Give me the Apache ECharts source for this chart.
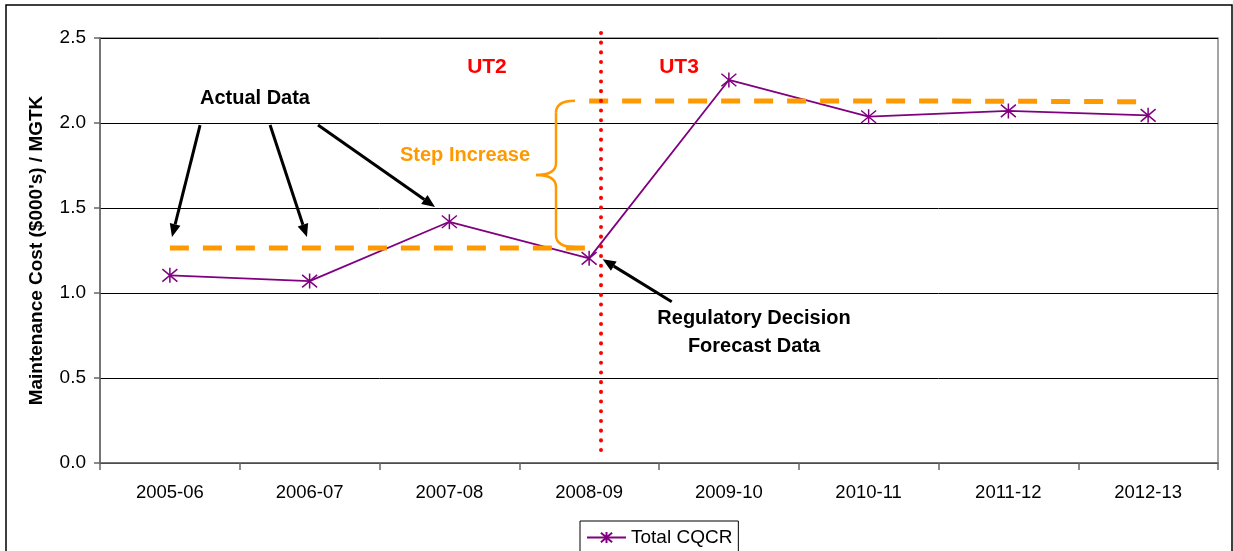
<!DOCTYPE html>
<html>
<head>
<meta charset="utf-8">
<script src="https://cdn.jsdelivr.net/npm/echarts@6/dist/echarts.min.js"></script>
<style>
  html, body { margin: 0; padding: 0; background: #fff; }
  #main { width: 1233px; height: 551px; }
</style>
</head>
<body>
<div id="main"></div>
<script>
  var categories = ['2005-06', '2006-07', '2007-08', '2008-09', '2009-10', '2010-11', '2011-12', '2012-13']
  var totalCqcr = [1.104, 1.07, 1.419, 1.204, 2.253, 2.037, 2.071, 2.045]
  var ut2Level = [1.265, 1.265, 1.265, 1.265, '-', '-', '-', '-']
  var ut3Level = ['-', '-', '-', 2.13, 2.13, 2.13, 2.128, 2.125]
  var yTicks = [0, 0.5, 1.0, 1.5, 2.0, 2.5]

  // regulatory decision marker, x in category units
  var decisionX = 3.085
  var decisionLine = [[decisionX, 2.53], [decisionX, 0.05]]

  // annotations, [x in category units, y value]
  var arrows = [
    [[0.216, 1.988], [0.015, 1.329]],
    [[0.717, 1.988], [0.981, 1.329]],
    [[1.06, 1.988], [1.897, 1.506]],
    [[3.591, 0.949], [3.097, 1.198]]
  ]
  var notes = [
    {text: 'Actual Data', at: [0.609, 2.147], color: '#000', size: 20},
    {text: 'Step Increase', at: [2.112, 1.806], color: '#FF9900', size: 20},
    {text: 'UT2', at: [2.269, 2.329], color: '#FF0000', size: 21},
    {text: 'UT3', at: [3.643, 2.329], color: '#FF0000', size: 21},
    {text: 'Regulatory Decision\nForecast Data', at: [4.18, 0.765], color: '#000', size: 20}
  ]
  var brace = {xEnd: 2.899, xBar: 2.763, xTip: 2.62, yTop: 2.131, yTip: 1.694, yBot: 1.27}

  var font = 'Liberation Sans, Arial, sans-serif'
  var chart = echarts.init(document.getElementById('main'))

  var option = {
    animation: false,
    backgroundColor: '#fff',
    textStyle: {fontFamily: font},
    grid: {
      left: 100, right: 15, top: 38, bottom: 88,
      show: true, borderColor: '#888', borderWidth: 1.5
    },
    legend: {
      data: ['Total CQCR'],
      left: 580, top: 521,
      orient: 'horizontal',
      padding: [7, 6, 10, 6],
      borderColor: '#000', borderWidth: 1,
      itemWidth: 39, itemHeight: 14,
      textStyle: {fontSize: 19, color: '#000', fontFamily: font}
    },
    xAxis: [
      {
        type: 'category',
        data: categories,
        boundaryGap: true,
        axisLine: {lineStyle: {color: '#666', width: 1.5}},
        axisTick: {show: true, length: 7, lineStyle: {color: '#666', width: 1.5}},
        axisLabel: {interval: 0, margin: 20, fontSize: 18.5, color: '#000', fontFamily: font},
        splitLine: {show: false}
      },
      {
        type: 'value',
        min: -0.5, max: 7.5,
        show: false
      }
    ],
    yAxis: {
      type: 'value',
      min: 0, max: 2.5, interval: 0.5,
      name: "Maintenance Cost ($000's) / MGTK",
      nameLocation: 'middle',
      nameGap: 54,
      nameRotate: 90,
      nameTextStyle: {fontSize: 19, fontWeight: 'bold', color: '#000', fontFamily: font},
      axisLine: {show: true, onZero: false, lineStyle: {color: '#666', width: 1.5}},
      axisTick: {show: true, length: 6, lineStyle: {color: '#666', width: 1.5}},
      axisLabel: {
        margin: 14, fontSize: 19, color: '#000', fontFamily: font,
        formatter: function (v) {
          return yTicks.indexOf(v) >= 0 ? v.toFixed(1) : ''
        }
      },
      splitLine: {show: true, lineStyle: {color: '#000', width: 1}}
    },
    series: [
      {
        name: 'Total CQCR',
        type: 'line',
        data: totalCqcr,
        symbol: 'path://M1,1L11,11M11,1L1,11M6,0L6,12',
        symbolSize: 15,
        itemStyle: {color: '#800080', borderColor: '#800080', borderWidth: 1.5},
        lineStyle: {color: '#800080', width: 1.8},
        z: 3
      },
      {
        name: 'UT2 level',
        type: 'line',
        data: ut2Level,
        symbol: 'none',
        lineStyle: {color: '#FF9900', width: 5, type: [19, 14]},
        z: 4
      },
      {
        name: 'UT3 level',
        type: 'line',
        data: ut3Level,
        symbol: 'none',
        lineStyle: {color: '#FF9900', width: 5, type: [19, 14]},
        z: 4
      },
      {
        name: 'Decision',
        type: 'line',
        xAxisIndex: 1,
        data: decisionLine,
        symbol: 'none',
        clip: false,
        lineStyle: {color: '#FF0000', width: 4, type: [0.1, 9.6], cap: 'round'},
        z: 5
      }
    ]
  }
  chart.setOption(option)

  function px(p) {
    return chart.convertToPixel({seriesIndex: 3}, p)
  }

  function arrow(a, b) {
    var p1 = px(a), p2 = px(b)
    var dx = p2[0] - p1[0], dy = p2[1] - p1[1]
    var len = Math.sqrt(dx * dx + dy * dy)
    var ux = dx / len, uy = dy / len
    var hl = 13, hw = 5.5
    var bx = p2[0] - ux * hl, by = p2[1] - uy * hl
    return [
      {
        type: 'line', z: 10, silent: true,
        shape: {x1: p1[0], y1: p1[1], x2: bx, y2: by},
        style: {stroke: '#000', lineWidth: 3}
      },
      {
        type: 'polygon', z: 10, silent: true,
        shape: {points: [p2, [bx - uy * hw, by + ux * hw], [bx + uy * hw, by - ux * hw]]},
        style: {fill: '#000'}
      }
    ]
  }

  var graphics = [
    {
      type: 'rect', z: 0, silent: true,
      shape: {x: 6, y: 5, width: 1226, height: 600},
      style: {fill: 'none', stroke: '#000', lineWidth: 1.5}
    }
  ]
  arrows.forEach(function (a) {
    graphics = graphics.concat(arrow(a[0], a[1]))
  })
  notes.forEach(function (n) {
    var p = px(n.at)
    graphics.push({
      type: 'text', z: 10, silent: true,
      x: p[0], y: p[1],
      style: {
        text: n.text, fill: n.color,
        font: 'bold ' + n.size + 'px ' + font,
        align: 'center', verticalAlign: 'middle',
        lineHeight: 28
      }
    })
  })

  // curly brace marking the step
  var e1 = px([brace.xEnd, brace.yTop]), e2 = px([brace.xEnd, brace.yBot])
  var bar = px([brace.xBar, brace.yTip])[0]
  var tip = px([brace.xTip, brace.yTip])
  var r = 12
  var braceStyle = {fill: 'none', stroke: '#FF9900', lineWidth: 2.5}
  function curve(x1, y1, cx, cy, x2, y2) {
    return {
      type: 'bezierCurve', z: 10, silent: true,
      shape: {x1: x1, y1: y1, cpx1: cx, cpy1: cy, x2: x2, y2: y2},
      style: braceStyle
    }
  }
  function seg(x1, y1, x2, y2) {
    return {
      type: 'line', z: 10, silent: true,
      shape: {x1: x1, y1: y1, x2: x2, y2: y2},
      style: braceStyle
    }
  }
  graphics.push(
    curve(e1[0], e1[1], bar, e1[1], bar, e1[1] + r),
    seg(bar, e1[1] + r, bar, tip[1] - r),
    curve(bar, tip[1] - r, bar, tip[1], tip[0], tip[1]),
    curve(tip[0], tip[1], bar, tip[1], bar, tip[1] + r),
    seg(bar, tip[1] + r, bar, e2[1] - r),
    curve(bar, e2[1] - r, bar, e2[1], e2[0], e2[1])
  )

  chart.setOption({graphic: graphics})
</script>
</body>
</html>
